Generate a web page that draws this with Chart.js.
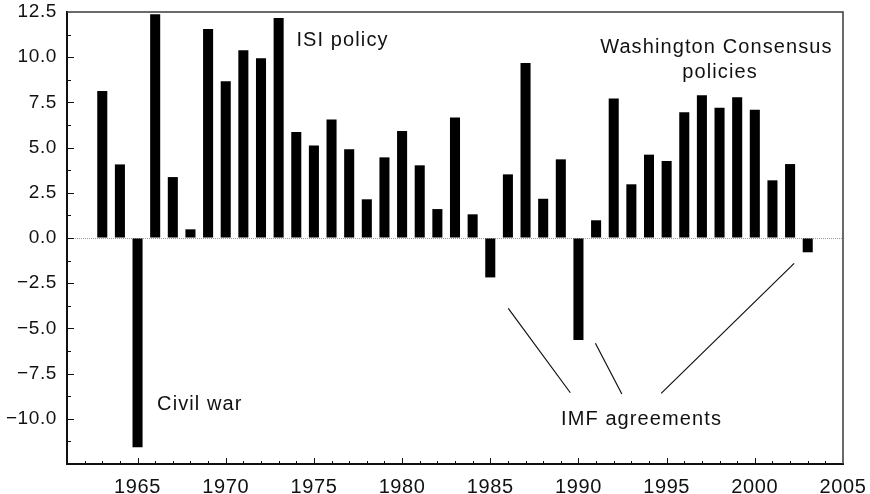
<!DOCTYPE html>
<html>
<head>
<meta charset="utf-8">
<script src="https://cdn.jsdelivr.net/npm/chart.js@4.4.1/dist/chart.umd.min.js"></script>
<style>
  html, body { margin: 0; padding: 0; background: #fff; }
  #wrap { width: 870px; height: 494px; }
</style>
</head>
<body>
<div id="wrap"><canvas id="growthChart" width="870" height="494"></canvas></div>
<script>
// ── annual GDP growth (%) ──────────────────────────────────────────────────
const years = [
  1963, 1964, 1965, 1966, 1967, 1968, 1969, 1970, 1971, 1972,
  1973, 1974, 1975, 1976, 1977, 1978, 1979, 1980, 1981, 1982,
  1983, 1984, 1985, 1986, 1987, 1988, 1989, 1990, 1991, 1992,
  1993, 1994, 1995, 1996, 1997, 1998, 1999, 2000, 2001, 2002,
  2003,
];
const growth = [
  8.13,  4.07, -11.58, 12.37, 3.37, 0.48, 11.56, 8.67, 10.38, 9.94,
  12.17, 5.86,  5.11,  6.56, 4.91, 2.14,  4.46, 5.92,  4.02, 1.60,
  6.67,  1.31, -2.18,  3.52, 9.68, 2.17,  4.35, -5.64, 0.98, 7.71,
  2.97,  4.61,  4.26,  6.95, 7.89, 7.21,  7.78, 7.10,  3.19, 4.09,
  -0.79,
];

const xTicks = [1965, 1970, 1975, 1980, 1985, 1990, 1995, 2000, 2005];
const yTicks = [-10, -7.5, -5, -2.5, 0, 2.5, 5, 7.5, 10, 12.5];

// text notes: left end of the baseline, in (year, value)
const noteText  = ['ISI policy', 'Washington Consensus', 'policies', 'Civil war', 'IMF agreements'];
const noteYear  = [1974.01, 1991.23, 1995.89, 1966.11, 1989.01];
const noteValue = [10.64, 10.23, 8.85, -9.51, -10.34];

// leader lines from "IMF agreements" up to the crisis years
const leaderFrom = [[1986.02, -3.89], [1990.96, -5.82], [2002.23, -1.40]];
const leaderTo   = [[1989.54, -8.56], [1992.46, -8.63], [1994.69, -8.59]];

const FONT = '"Liberation Sans", Arial, Helvetica, sans-serif';
const INK  = '#111';

const framePlugin = {
  id: 'frame',
  beforeDraw(chart) {
    chart.ctx.letterSpacing = '0.6px';
  },
  beforeDatasetsDraw(chart) {
    const { ctx, chartArea: a, scales: { y } } = chart;
    const y0 = Math.round(y.getPixelForValue(0)) + 0.5;
    ctx.save();
    ctx.strokeStyle = '#9a9a9a';
    ctx.lineWidth = 1;
    ctx.setLineDash([1, 1]);
    ctx.beginPath();
    ctx.moveTo(a.left, y0);
    ctx.lineTo(a.right, y0);
    ctx.stroke();
    ctx.restore();
  },
  afterDraw(chart) {
    const { ctx, chartArea: a, scales: { x, y } } = chart;
    ctx.save();

    // top + right frame
    ctx.strokeStyle = '#3a3a3a';
    ctx.lineWidth = 1.5;
    ctx.beginPath();
    ctx.moveTo(a.left, a.top);
    ctx.lineTo(a.right, a.top);
    ctx.lineTo(a.right, a.bottom);
    ctx.stroke();

    // inward ticks: majors on labels, minors in between
    ctx.strokeStyle = INK;
    ctx.lineWidth = 1;
    ctx.beginPath();
    for (let yr = Math.ceil(x.min) + 1; yr < x.max; yr++) {
      const px = Math.round(x.getPixelForValue(yr)) + 0.5;
      const len = yr % 5 === 0 ? 6 : 3;
      ctx.moveTo(px, a.bottom);
      ctx.lineTo(px, a.bottom - len);
    }
    for (let v = y.min + 1.25; v < y.max; v += 1.25) {
      const py = Math.round(y.getPixelForValue(v)) + 0.5;
      const major = Math.abs(v / 2.5 - Math.round(v / 2.5)) < 1e-6;
      ctx.moveTo(a.left, py);
      ctx.lineTo(a.left + (major ? 7 : 4), py);
    }
    ctx.stroke();

    // leader lines
    ctx.lineWidth = 1.2;
    ctx.beginPath();
    leaderFrom.forEach((p, i) => {
      const q = leaderTo[i];
      ctx.moveTo(x.getPixelForValue(p[0]), y.getPixelForValue(p[1]));
      ctx.lineTo(x.getPixelForValue(q[0]), y.getPixelForValue(q[1]));
    });
    ctx.stroke();

    // notes
    ctx.fillStyle = INK;
    ctx.font = '20px ' + FONT;
    ctx.letterSpacing = '1.1px';
    ctx.textAlign = 'left';
    ctx.textBaseline = 'alphabetic';
    noteText.forEach((t, i) => {
      ctx.fillText(t, x.getPixelForValue(noteYear[i]), y.getPixelForValue(noteValue[i]));
    });
    ctx.restore();
  },
};

new Chart(document.getElementById('growthChart'), {
  type: 'bar',
  data: {
    datasets: [{
      data:               years.map((yr, i) => ({ x: yr, y: growth[i] })),
      backgroundColor:    '#000',
      borderWidth:        0,
      barPercentage:      0.57,
      categoryPercentage: 1,
    }],
  },
  options: {
    responsive: false,
    animation: false,
    devicePixelRatio: 1,
    layout: { padding: { top: 12, right: 27, left: 0, bottom: 0 } },
    plugins: {
      legend:  { display: false },
      tooltip: { enabled: false },
    },
    scales: {
      x: {
        type: 'linear',
        min: 1961,
        max: 2005,
        offset: false,
        afterBuildTicks: s => { s.ticks = xTicks.map(v => ({ value: v })); },
        afterFit: s => { s.height = 30; s.paddingLeft = 0; s.paddingRight = 0; },
        grid:   { display: true, drawOnChartArea: false, drawTicks: false, offset: false },
        border: { color: INK, width: 2 },
        ticks:  {
          color: INK, padding: 11, maxRotation: 0, autoSkip: false,
          font: { family: FONT, size: 20 },
          callback: v => String(v),
        },
      },
      y: {
        min: -12.5,
        max: 12.5,
        afterBuildTicks: s => { s.ticks = yTicks.map(v => ({ value: v })); },
        afterFit: s => { s.width = 67; s.paddingTop = 0; s.paddingBottom = 0; },
        grid:   { display: true, drawOnChartArea: false, drawTicks: false },
        border: { color: INK, width: 2 },
        ticks:  {
          color: INK, padding: 10,
          font: { family: FONT, size: 19 },
          callback: v => Number(v).toFixed(1).replace('-', '\u2212'),
        },
      },
    },
  },
  plugins: [framePlugin],
});
</script>
</body>
</html>
